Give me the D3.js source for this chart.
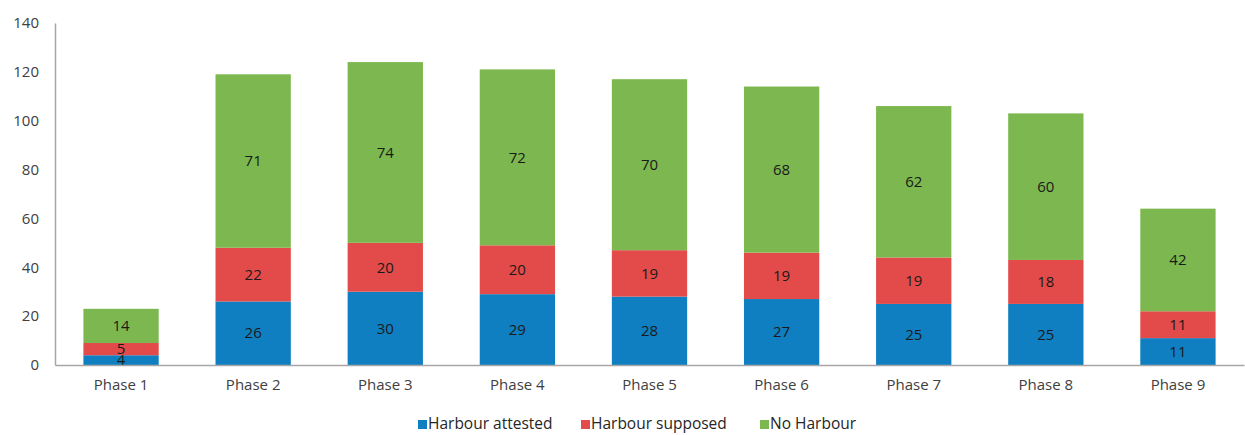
<!DOCTYPE html>
<html lang="en">

<head>
  <title>Harbour phases</title>
  <script src="https://cdn.jsdelivr.net/npm/d3@7/dist/d3.min.js"></script>
  <style>
    body { margin: 0; background: #fff; }
    text { font-family: "Open Sans", "Noto Sans", sans-serif; }
  </style>
</head>

<body>
  <script>
    var phases = ["Phase 1", "Phase 2", "Phase 3", "Phase 4", "Phase 5", "Phase 6", "Phase 7", "Phase 8", "Phase 9"];
    var attested = [4, 26, 30, 29, 28, 27, 25, 25, 11];
    var supposed = [5, 22, 20, 20, 19, 19, 19, 18, 11];
    var noHarbour = [14, 71, 74, 72, 70, 68, 62, 60, 42];
    var seriesNames = ["Harbour attested", "Harbour supposed", "No Harbour"];
    var yTicks = [0, 20, 40, 60, 80, 100, 120, 140];

    var colors = ["#0f7fc1", "#e24b49", "#7cb84f"];
    var w = 1245, h = 435;
    var margin = { top: 23, left: 55, right: 1, bottom: 70 };

    var rows = phases.map(function (p, i) {
      return { phase: p, a: attested[i], s: supposed[i], n: noHarbour[i] };
    });
    var stack = d3.stack().keys(["a", "s", "n"])(rows);

    var x = d3.scaleBand()
      .domain(phases)
      .range([margin.left, w - margin.right])
      .paddingInner(0.43)
      .paddingOuter(0.215);
    var y = d3.scaleLinear()
      .domain([0, 140])
      .range([h - margin.bottom, margin.top]);

    var svg = d3.select("body").append("svg")
      .attr("width", w)
      .attr("height", h);

    // bars
    var layers = svg.selectAll(".layer")
      .data(stack)
      .enter()
      .append("g")
      .attr("fill", function (d, i) { return colors[i]; });
    layers.selectAll("rect")
      .data(function (d) { return d; })
      .enter()
      .append("rect")
      .attr("x", function (d) { return x(d.data.phase); })
      .attr("y", function (d) { return y(d[1]); })
      .attr("width", x.bandwidth())
      .attr("height", function (d) { return y(d[0]) - y(d[1]); });

    // value labels (4 and 5 of phase 1 overlap in the original too)
    layers.selectAll("text")
      .data(function (d) { return d; })
      .enter()
      .append("text")
      .attr("x", function (d) { return x(d.data.phase) + x.bandwidth() / 2; })
      .attr("y", function (d) { return (y(d[0]) + y(d[1])) / 2; })
      .attr("dy", "0.35em")
      .attr("text-anchor", "middle")
      .attr("fill", "#1a1a1a")
      .style("font-size", "15px")
      .text(function (d) { return d[1] - d[0]; });

    // axes
    var yAxis = svg.append("g")
      .attr("transform", "translate(" + margin.left + ",0)")
      .call(d3.axisLeft(y).tickValues(yTicks).tickSize(0).tickPadding(16));
    var xAxis = svg.append("g")
      .attr("transform", "translate(0," + y(0) + ")")
      .call(d3.axisBottom(x).tickSize(0).tickPadding(14));
    [yAxis, xAxis].forEach(function (g) {
      g.select(".domain").attr("stroke", "#a6a6a6").attr("stroke-width", 1.5);
      g.selectAll("text").attr("fill", "#404040").style("font-size", "15px");
    });

    // legend
    var legendX = [418, 581, 760];
    var legend = svg.selectAll(".legend")
      .data(seriesNames)
      .enter()
      .append("g")
      .attr("transform", function (d, i) { return "translate(" + legendX[i] + ",424)"; });
    legend.append("rect")
      .attr("x", 0)
      .attr("y", -4)
      .attr("width", 9)
      .attr("height", 9)
      .attr("fill", function (d, i) { return colors[i]; });
    legend.append("text")
      .attr("x", 10)
      .attr("dy", "0.35em")
      .attr("fill", "#262626")
      .style("font-size", "15.5px")
      .text(function (d) { return d; });
  </script>
</body>

</html>
